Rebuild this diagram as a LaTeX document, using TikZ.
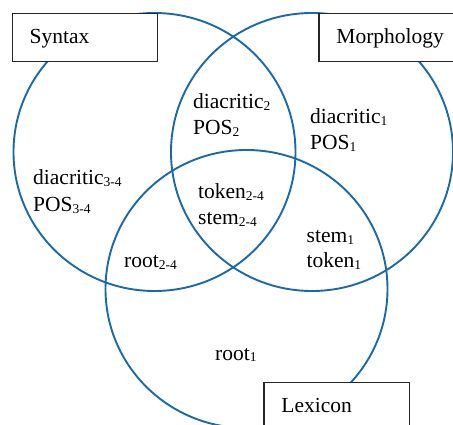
\documentclass[tikz,border=0pt]{standalone}
\usepackage{fontspec}
\setmainfont{Liberation Serif}
\usetikzlibrary{shapes.geometric}
\definecolor{vennblue}{RGB}{26,106,170}
\newcommand\subtx[1]{\raisebox{-1.6pt}{\fontsize{13.5}{13.5}\selectfont #1}}
\begin{document}
\begin{tikzpicture}[x=1pt,y=-1pt,
  venn/.style={ellipse,draw=vennblue,line width=1.9pt,inner sep=0pt,minimum width=282pt,minimum height=278pt},
  labelbox/.style={draw=black!85,fill=white,line width=1.2pt,anchor=north west,
     minimum width=145.2pt,minimum height=47.4pt,text width=110.2pt,inner xsep=17.5pt,inner ysep=0pt,
     align=left,text height=16pt,text depth=4pt,font=\fontsize{21.5}{21.5}\selectfont},
  txt/.style={anchor=base west,inner sep=0pt,font=\fontsize{21.5}{21.5}\selectfont}]
\useasboundingbox (0,0) rectangle (453,425);
\clip (0,0) rectangle (453,425);
% circles
\node[venn] (csyn) at (154.5,152) {};
\node[venn] (cmor) at (312,152) {};
\node[venn] (clex) at (246.5,289) {};
% boxes
\node[labelbox] (bsyn) at (11.5,13.3) {Syntax};
\node[labelbox] (bmor) at (318.3,13.3) {Morphology};
\node[labelbox] (blex) at (263.3,381.7) {Lexicon};
% region texts
\node[txt] (d2) at (193,109) {diacritic\subtx{2}};
\node[txt] (p2) at (193,135) {POS\subtx{2}};
\node[txt] (d1) at (310,124) {diacritic\subtx{1}};
\node[txt] (p1) at (310,150) {POS\subtx{1}};
\node[txt] (d34) at (33,185) {diacritic\subtx{3-4}};
\node[txt] (p34) at (33,211.5) {POS\subtx{3-4}};
\node[txt] (t24) at (198,199) {token\subtx{2-4}};
\node[txt] (s24) at (198,225) {stem\subtx{2-4}};
\node[txt] (r24) at (124,268) {root\subtx{2-4}};
\node[txt] (s1) at (306.5,243) {stem\subtx{1}};
\node[txt] (t1) at (306.5,268) {token\subtx{1}};
\node[txt] (r1) at (215,360) {root\subtx{1}};
\end{tikzpicture}
\end{document}
